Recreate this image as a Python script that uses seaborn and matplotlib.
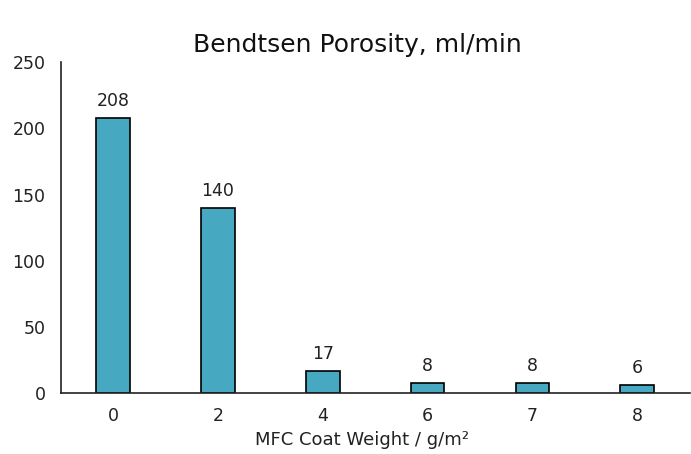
import matplotlib
matplotlib.use("Agg")
import matplotlib.pyplot as plt
import seaborn as sns
import pandas as pd

coat_weight = ["0", "2", "4", "6", "7", "8"]
porosity = [208, 140, 17, 8, 8, 6]

df = pd.DataFrame({"coat_weight": coat_weight, "porosity": porosity})

sns.set_style("white")
plt.rcParams["font.family"] = ["DejaVu Sans"]

fig = plt.figure(figsize=(6.91, 4.54), dpi=100)
ax = fig.add_axes([0.088, 0.134, 0.910, 0.729])

sns.barplot(data=df, x="coat_weight", y="porosity", color="#47A9C1",
            saturation=1, width=0.32, edgecolor="black", linewidth=1.2, ax=ax)

for i, v in enumerate(porosity):
    ax.text(i, v + 6, str(v), ha="center", va="bottom", fontsize=12.5, color="#222222")

ax.set_ylim(0, 250)
ax.set_xlim(-0.5, 5.5)
ax.set_yticks([0, 50, 100, 150, 200, 250])
ax.tick_params(axis="y", length=0, labelsize=12.5, colors="#222222", pad=11)
ax.tick_params(axis="x", length=0, labelsize=12.5, colors="#222222", pad=10)
ax.set_xlabel("MFC Coat Weight / g/m²", fontsize=13, color="#222222", labelpad=4, x=0.479)
ax.set_ylabel("")
ax.set_title("Bendtsen Porosity, ml/min", fontsize=18, color="#111111", pad=7, x=0.471)

for side in ["top", "right"]:
    ax.spines[side].set_visible(False)
for side in ["left", "bottom"]:
    ax.spines[side].set_color("#222222")
    ax.spines[side].set_linewidth(1.2)

fig.savefig("out.png", dpi=100)
